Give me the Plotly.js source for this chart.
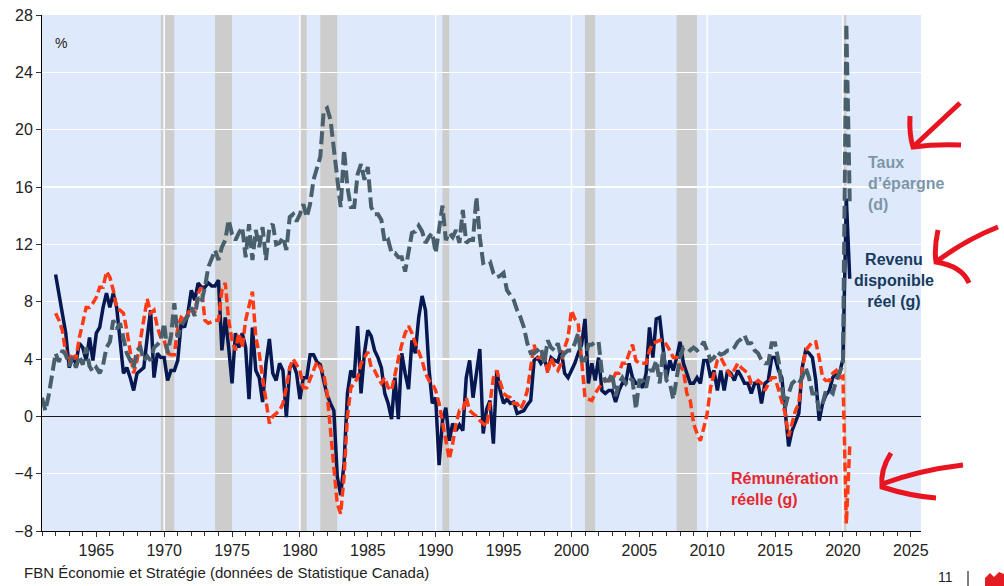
<!DOCTYPE html>
<html>
<head>
<meta charset="utf-8">
<script src="https://cdn.plot.ly/plotly-3.0.1.min.js"></script>
<style>
  html, body { margin: 0; padding: 0; background: #ffffff; }
  #chart { width: 1004px; height: 586px; }
</style>
</head>
<body>
<div id="chart"></div>
<script>
// ---- Data (quarterly, % y/y) ----
const savingsStartYear = 1961;
const savingsRate = [
  1.3, 0.4, 1.5, 3.0,
  4.4, 3.8, 4.6, 4.3,
  3.5, 4.1, 3.4, 4.2,
  3.6, 4.8, 3.5, 3.1,
  3.4, 3.0, 3.6, 4.8,
  5.2, 6.7, 6.1, 6.5,
  5.4, 4.4, 3.9, 3.4,
  4.6, 4.8, 3.9, 4.2,
  3.9, 4.8, 5.0, 5.3,
  6.5, 4.4, 5.6, 7.9,
  5.5, 6.3, 6.7, 7.0,
  7.6, 7.0, 8.3, 8.0,
  9.0, 10.4, 11.0, 11.6,
  10.9, 11.8, 12.3, 13.7,
  12.7, 12.3, 12.8, 13.2,
  11.1, 13.4, 10.9, 13.0,
  11.8, 13.2, 10.9, 13.2,
  13.4, 12.0, 12.1, 12.5,
  11.6, 13.9, 14.1, 13.6,
  14.1, 14.8, 13.9, 14.8,
  16.5, 17.4, 18.1, 21.3,
  21.5, 20.7, 18.8, 16.9,
  14.6, 18.6, 16.0, 14.6,
  14.6, 16.9, 17.6, 16.5,
  17.4, 14.6, 14.1, 14.1,
  13.7, 12.1, 12.3, 11.4,
  11.4, 11.1, 11.1, 10.1,
  11.5, 12.8, 12.9, 13.3,
  12.9, 12.1, 12.5, 12.8,
  11.4, 13.2, 14.7, 12.3,
  12.8, 12.5, 13.0, 12.1,
  14.4, 12.1, 12.3, 12.3,
  15.3, 12.5, 10.7, 10.8,
  10.8, 10.0, 9.7, 9.8,
  10.0, 8.8, 8.5, 8.1,
  7.4, 6.9, 6.2, 5.1,
  4.4, 4.4, 4.6, 4.8,
  3.7, 5.3, 4.8, 4.6,
  5.1, 4.1, 4.4, 4.6,
  4.6, 5.1, 5.8, 3.9,
  3.9, 5.0, 5.0, 5.2,
  5.2, 3.0, 2.5, 2.5,
  3.0, 1.4, 2.3, 2.7,
  2.3, 2.7, 2.5, 0.5,
  2.5, 2.5, 2.0, 3.2,
  3.2, 3.9, 2.3, 4.6,
  2.5, 2.3, 1.2, 2.5,
  4.1, 4.8, 4.8, 4.6,
  4.8, 4.6, 4.8, 5.2,
  4.6, 3.9, 4.1, 4.5,
  4.3, 4.4, 4.6, 4.6,
  4.8, 5.2, 5.4, 5.65,
  5.1, 5.1, 4.6, 4.4,
  3.9, 3.7, 3.7, 5.1,
  5.1, 3.9, 2.0, 0.65,
  1.6, 2.3, 2.5, 2.3,
  2.7, 3.4, 2.7, 1.6,
  1.6, 0.4, 0.9, 1.8,
  1.8, 1.6, 2.5, 3.0,
  3.6, 27.4, 15.0
];

const incomeStartYear = 1962;
const realDisposableIncome = [
  9.9, 8.6, 7.2, 5.8,
  3.4, 4.1, 3.7, 5.1,
  4.8, 3.9, 5.5, 3.9,
  5.8, 6.2, 7.6, 8.6,
  7.6, 8.6, 7.6, 5.5,
  3.0, 3.4, 2.7, 1.8,
  3.0, 3.2, 3.4, 5.5,
  7.4, 2.7, 4.4, 4.1,
  4.1, 2.5, 3.2, 3.2,
  3.9, 6.5, 6.2, 7.2,
  8.8, 8.1, 9.3, 9.0,
  9.0, 9.3, 9.1, 9.1,
  9.5, 4.6, 6.9, 4.8,
  2.3, 5.8, 4.8, 5.8,
  4.8, 1.2, 6.2, 3.2,
  2.7, 1.0, 3.7, 5.4,
  3.0, 2.5, 3.7, 3.2,
  -0.05, 3.4, 3.7, 3.0,
  1.2, 2.7, 2.7, 4.3,
  4.3, 3.8, 3.6, 2.5,
  1.5, 0.9, 0.4, -4.2,
  -5.5, -3.3, 1.6, 3.2,
  2.7, 6.3, 1.6, 4.4,
  6.0, 5.6, 4.6, 4.1,
  3.4, 1.6, 0.9, -0.2,
  2.7, -0.2, 4.4, 3.0,
  1.9, 5.3, 4.4, 6.9,
  8.4, 7.4, 3.4, 0.9,
  1.3, -3.4, -0.3, 0.6,
  -1.7, -0.5, -1.0, -0.6,
  -1.0, 2.7, 3.9, 1.3,
  3.2, 4.7, -1.2, 0.5,
  1.1, -1.9, 3.2, 1.8,
  0.9, 1.2, 0.9, 1.0,
  0.2, 0.3, 0.4, 0.8,
  1.1, 3.9, 4.1, 3.7,
  4.0, 3.2, 4.1, 3.9,
  3.8, 4.6, 3.0, 2.7,
  3.2, 3.7, 4.4, 5.0,
  6.8, 2.3, 3.7, 2.5,
  4.1, 1.8, 1.6, 1.8,
  1.8, 1.0, 1.8, 2.3,
  2.3, 3.7, 2.7, 2.3,
  2.3, 2.0, 3.0, 6.2,
  4.1, 6.8, 6.9, 4.8,
  2.7, 3.9, 3.2, 4.1,
  5.2, 3.7, 3.0, 2.3,
  2.3, 2.7, 2.3, 3.9,
  3.9, 2.7, 3.2, 1.8,
  3.2, 1.8, 3.2, 3.0,
  2.5, 3.2, 2.8, 2.3,
  2.3, 1.6, 2.3, 2.3,
  0.9, 2.3, 2.5, 4.1,
  4.1, 3.2, 2.7, 0.5,
  -2.1, -1.0, -0.4, 0.2,
  3.4, 4.6, 4.4, 4.1,
  2.5, -0.3, 0.9, 1.5,
  1.8, 2.7, 3.0, 3.0,
  4.0, 15.2, 9.6
];

const compStartYear = 1962;
const realCompensation = [
  7.2, 6.7, 6.0, 4.4,
  3.7, 4.4, 4.0, 5.5,
  6.5, 7.6, 7.6, 7.9,
  8.3, 9.0, 9.0, 10.1,
  9.7, 8.8, 7.6, 7.4,
  7.2, 6.0, 4.4, 3.0,
  3.9, 5.3, 6.9, 8.2,
  7.2, 7.4, 6.2, 5.5,
  5.3, 4.4, 4.3, 4.3,
  6.2, 6.9, 6.7, 7.2,
  7.6, 7.2, 8.6, 9.0,
  6.7, 6.5, 6.6, 6.7,
  6.7, 8.8, 9.3, 6.7,
  5.3, 4.6, 5.8, 4.8,
  6.7, 7.6, 8.7, 5.5,
  4.4, 2.7, 1.0, -0.5,
  0.0, 0.2, 0.4, 0.9,
  2.0, 3.4, 4.0, 3.6,
  3.2, 2.0, 2.0, 2.6,
  3.2, 3.8, 3.4, 3.0,
  1.6, -1.0, -3.8, -6.1,
  -6.8, -4.2, 0.0, 2.0,
  2.3, 2.7, 3.7, 4.1,
  4.5, 3.4, 3.2, 2.7,
  2.3, 2.7, 2.0, 1.8,
  3.0, 4.0, 5.0, 5.8,
  6.3, 5.8, 5.1, 4.5,
  3.9, 3.0, 2.5, 2.3,
  1.8, 0.9, -0.5, -1.9,
  -3.0, -1.9, -0.5, 0.4,
  0.4, 1.3, 0.4, 0.2,
  0.0, -0.3, -0.5, -0.7,
  0.9, 2.7, 3.2, 2.3,
  1.6, 1.4, 1.3, 0.9,
  0.9, 0.5, 1.0, 1.8,
  3.5, 5.0, 4.1, 4.1,
  4.6, 3.0, 4.1, 3.5,
  3.2, 3.7, 4.8, 5.5,
  7.4, 6.8, 6.5, 4.1,
  1.3, 1.2, 1.1, 1.6,
  2.0, 2.3, 2.5, 2.5,
  2.5, 3.0, 3.0, 3.7,
  3.7, 4.4, 5.0, 3.9,
  3.7, 3.7, 3.7, 4.6,
  5.1, 5.2, 5.3, 5.3,
  5.0, 4.6, 4.1, 4.1,
  3.5, 3.2, 1.6, 1.1,
  -0.5, -1.2, -1.7, -0.8,
  0.2, 2.0, 3.0, 3.9,
  4.1, 3.6, 3.2, 2.8,
  3.2, 3.7, 3.4, 3.2,
  3.0, 2.3, 2.3, 2.5,
  2.3, 1.8, 2.3, 2.7,
  2.7, 1.8, 0.9, 0.2,
  -1.4, -0.5, 0.4, 0.9,
  3.2, 4.6, 4.9, 5.2,
  5.2, 4.1, 2.7, 2.5,
  2.5, 3.0, 3.2, 2.7,
  2.8, -7.5, -2.1
];

// Recessions (shaded periods)
const recessionStart = [1969.75, 1973.75, 1980.0, 1981.5, 1990.5, 2001.0, 2007.75, 2020.0];
const recessionEnd   = [1970.75, 1975.0, 1980.5, 1982.75, 1991.0, 2001.75, 2009.25, 2020.25];

const xTickYears = [1965, 1970, 1975, 1980, 1985, 1990, 1995, 2000, 2005, 2010, 2015, 2020, 2025];
const decadeGridYears = [1970, 1980, 1990, 2000, 2010, 2020];

// ---- helpers ----
function quarterDates(startYear, n) {
  const out = [];
  for (let i = 0; i < n; i++) out.push(startYear + i * 0.25);
  return out;
}
// plot area in pixels: left 42, right 921, top 15, bottom 531
const PL = 42, PR = 921, PT = 15, PB = 531;
function px(x) { return (x - PL) / (PR - PL); }
function py(y) { return (PB - y) / (PB - PT); }
function pathPx(cmds) {
  return cmds.map(c => {
    if (c[0] === 'Q') return 'Q' + px(c[1]) + ',' + py(c[2]) + ' ' + px(c[3]) + ',' + py(c[4]);
    if (c[0] === 'Z') return 'Z';
    return c[0] + px(c[1]) + ',' + py(c[2]);
  }).join(' ');
}

const FONT = 'Liberation Sans, Arial, Helvetica, sans-serif';

const traces = [
  {
    x: quarterDates(incomeStartYear, realDisposableIncome.length),
    y: realDisposableIncome,
    type: 'scatter', mode: 'lines',
    line: { color: '#07174f', width: 3.5 },
    name: 'Revenu disponible réel (g)'
  },
  {
    x: quarterDates(compStartYear, realCompensation.length),
    y: realCompensation,
    type: 'scatter', mode: 'lines',
    line: { color: '#ff3a14', width: 3.5, dash: '9px,4px' },
    name: 'Rémunération réelle (g)'
  },
  {
    x: quarterDates(savingsStartYear, savingsRate.length),
    y: savingsRate,
    type: 'scatter', mode: 'lines',
    line: { color: '#4a5f6c', width: 4, dash: '13px,5px' },
    name: 'Taux d’épargne (d)'
  }
];

const shapes = [];
for (let i = 0; i < recessionStart.length; i++) {
  shapes.push({
    type: 'rect', xref: 'x', yref: 'paper',
    x0: recessionStart[i], x1: recessionEnd[i], y0: 0, y1: 1,
    fillcolor: '#cdcdcd', line: { width: 0 }, layer: 'below'
  });
}
decadeGridYears.forEach(yr => {
  shapes.push({
    type: 'line', xref: 'x', yref: 'paper',
    x0: yr, x1: yr, y0: 0, y1: 1,
    line: { color: '#ffffff', width: 1.5 }, layer: 'below'
  });
});

// hand-drawn red arrows
const arrowColor = '#e8141f';
const arrowPaths = [
  [['M', 960, 103], ['L', 913, 147], ['M', 910, 116], ['Q', 909, 134, 913, 147], ['Q', 935, 144, 961, 145]],
  [['M', 998, 227], ['Q', 965, 240, 936, 262], ['M', 938, 230], ['Q', 934, 248, 936, 262], ['Q', 962, 266, 969, 283]],
  [['M', 963, 465], ['Q', 920, 470, 882, 484], ['M', 891, 453], ['Q', 880, 470, 882, 487], ['Q', 910, 496, 936, 498]]
];
arrowPaths.forEach(p => {
  shapes.push({
    type: 'path', xref: 'paper', yref: 'paper', path: pathPx(p),
    line: { color: arrowColor, width: 5 }, layer: 'above'
  });
});
// page footer decorations
shapes.push({
  type: 'line', xref: 'paper', yref: 'paper',
  x0: px(968), x1: px(968), y0: py(571), y1: py(590),
  line: { color: '#000000', width: 1 }
});
shapes.push({
  type: 'path', xref: 'paper', yref: 'paper',
  path: pathPx([['M', 985, 590], ['L', 985, 578], ['L', 990, 573], ['L', 994, 577], ['L', 999, 572], ['L', 1004, 574], ['L', 1004, 590], ['Z']]),
  fillcolor: '#e31b23', line: { width: 0 }
});

const annotations = [
  { x: px(61), y: py(43), xref: 'paper', yref: 'paper', text: '%', showarrow: false,
    font: { family: FONT, size: 14, color: '#222222' }, xanchor: 'center', yanchor: 'middle' },
  { x: px(866), y: py(183), xref: 'paper', yref: 'paper', text: '<b>Taux<br>d’épargne<br>(d)</b>',
    showarrow: false, align: 'left', xanchor: 'left', yanchor: 'middle',
    font: { family: FONT, size: 16, color: '#7d96a7' } },
  { x: px(894), y: py(280), xref: 'paper', yref: 'paper', text: '<b>Revenu<br>disponible<br>réel (g)</b>',
    showarrow: false, align: 'center', xanchor: 'center', yanchor: 'middle',
    font: { family: FONT, size: 16, color: '#173a5e' } },
  { x: px(729), y: py(488.5), xref: 'paper', yref: 'paper', text: '<b>Rémunération<br>réelle (g)</b>',
    showarrow: false, align: 'left', xanchor: 'left', yanchor: 'middle',
    font: { family: FONT, size: 16, color: '#e4282f' } },
  { x: px(22), y: py(572), xref: 'paper', yref: 'paper',
    text: 'FBN Économie et Stratégie (données de Statistique Canada)',
    showarrow: false, xanchor: 'left', yanchor: 'middle',
    font: { family: FONT, size: 15, color: '#222222' } },
  { x: px(946), y: py(577), xref: 'paper', yref: 'paper', text: '11',
    showarrow: false, xanchor: 'center', yanchor: 'middle',
    font: { family: FONT, size: 14, color: '#222222' } }
];

const layout = {
  width: 1004, height: 586,
  margin: { l: PL, r: 1004 - PR, t: PT, b: 586 - PB, pad: 0 },
  paper_bgcolor: '#ffffff',
  plot_bgcolor: '#deeafb',
  showlegend: false,
  font: { family: FONT, size: 16, color: '#222222' },
  xaxis: {
    range: [1961, 2025.75],
    tickmode: 'array', tickvals: xTickYears, ticktext: xTickYears.map(String),
    ticks: 'outside', ticklen: 5, tickcolor: '#333333', tickwidth: 1,
    showgrid: false, zeroline: false,
    showline: true, linecolor: '#000000', linewidth: 1,
    tickfont: { family: FONT, size: 16, color: '#222222' },
    minor: { tick0: 1961, dtick: 1, ticks: 'outside', ticklen: 4, tickcolor: '#333333', showgrid: false },
    fixedrange: true
  },
  yaxis: {
    range: [-8, 28],
    tick0: 0, dtick: 4,
    ticks: 'outside', ticklen: 5, tickcolor: '#333333', tickwidth: 1,
    showgrid: true, gridcolor: '#ffffff', gridwidth: 1.5,
    zeroline: true, zerolinecolor: '#1a1a1a', zerolinewidth: 1,
    showline: true, linecolor: '#000000', linewidth: 1,
    tickfont: { family: FONT, size: 16, color: '#222222' },
    fixedrange: true
  },
  shapes: shapes,
  annotations: annotations
};

Plotly.newPlot('chart', traces, layout, { staticPlot: true, displayModeBar: false });
</script>
</body>
</html>
